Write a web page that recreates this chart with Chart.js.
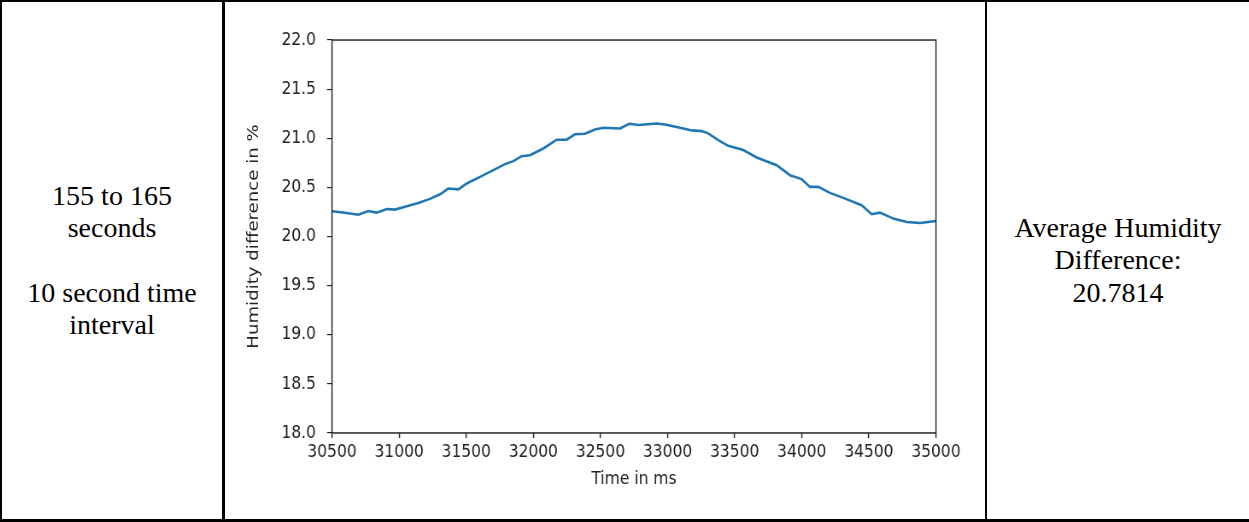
<!DOCTYPE html>
<html>
<head>
<meta charset="utf-8">
<title>Humidity difference, 155 to 165 seconds</title>
<script src="https://cdn.jsdelivr.net/npm/chart.js@4/dist/chart.umd.min.js"></script>
<style>
  html, body { margin: 0; padding: 0; background: #fff; }
  #page { position: relative; width: 1249px; height: 522px; overflow: hidden; }
  .rule { position: absolute; background: #000; }
  .cell {
    position: absolute; top: 2px; height: 517px;
    display: flex; align-items: center; justify-content: center;
    font-family: "Liberation Serif", "Times New Roman", serif;
    font-size: 28px; line-height: 1.15; color: #000; text-align: center;
  }
  /* the plot is drawn on a 1249x446 grid and shown a bit taller (522px) */
  #humidityChart { position: absolute; left: 0; top: 0; }
</style>
</head>
<body>
<div id="page">
  <div class="cell" style="left:2px; width:220px;">
    <div>155 to 165<br>seconds<br>&nbsp;<br>10 second time<br>interval</div>
  </div>
  <div class="cell" style="left:987px; width:262px;">
    <div>Average Humidity<br>Difference:<br>20.7814</div>
  </div>
  <canvas id="humidityChart" width="1249" height="446" style="width:1249px; height:522px;"></canvas>
  <!-- table rules -->
  <div class="rule" style="left:0; top:0; width:1249px; height:2px;"></div>
  <div class="rule" style="left:0; top:519px; width:1249px; height:3px;"></div>
  <div class="rule" style="left:0; top:0; width:2px; height:522px;"></div>
  <div class="rule" style="left:222px; top:0; width:3px; height:522px;"></div>
  <div class="rule" style="left:985px; top:0; width:2px; height:522px;"></div>
</div>

<script>
// Humidity difference over the 10 s window (time in ms)
const timeMs = [
    30500, 30610, 30696, 30770, 30833, 30908, 30969, 31057, 31143, 31230,
    31305, 31366, 31441, 31504, 31603, 31702, 31789, 31851, 31913, 31975,
    32074, 32174, 32248, 32310, 32385, 32459, 32521, 32646, 32715, 32782,
    32919, 32981, 33093, 33180, 33254, 33303, 33378, 33452, 33564, 33664,
    33813, 33912, 33999, 34061, 34123, 34210, 34309, 34446, 34521, 34583,
    34682, 34782, 34881, 35000
];
const humidityDiff = [
    20.257, 20.240, 20.222, 20.260, 20.243, 20.280, 20.274, 20.308, 20.342, 20.383,
    20.430, 20.488, 20.480, 20.540, 20.607, 20.675, 20.737, 20.767, 20.818, 20.828,
    20.896, 20.985, 20.985, 21.040, 21.046, 21.090, 21.107, 21.100, 21.148, 21.135,
    21.150, 21.140, 21.107, 21.080, 21.073, 21.050, 20.980, 20.923, 20.880, 20.804,
    20.726, 20.624, 20.584, 20.505, 20.505, 20.444, 20.393, 20.318, 20.227, 20.243,
    20.182, 20.148, 20.138, 20.158
];

// Axis ranges and tick steps
const xMin = 30500, xMax = 35000, xStep = 500;
const yMin = 18, yMax = 22, yStep = 0.5;

const axisFont = { family: 'DejaVu Sans', size: 15.5, lineHeight: 1.2 };
const inkColor = '#222';

// Box around the plot area (all four spines)
const frameBox = {
    id: 'frameBox',
    afterDraw(chart) {
        const { ctx, chartArea: a } = chart;
        ctx.save();
        ctx.strokeStyle = inkColor;
        ctx.lineWidth = 1.25;
        ctx.strokeRect(a.left, a.top, a.right - a.left, a.bottom - a.top);
        ctx.restore();
    }
};

const points = timeMs.map((t, i) => ({ x: t, y: humidityDiff[i] }));

new Chart(document.getElementById('humidityChart'), {
    type: 'line',
    data: {
        datasets: [{
            data: points,
            borderColor: '#1f77b4',
            borderWidth: 2.2,
            pointRadius: 0,
            tension: 0,
            fill: false
        }]
    },
    options: {
        responsive: false,
        animation: false,
        devicePixelRatio: 1.1705,
        layout: { padding: { left: 244.7, right: 313, top: 34.2, bottom: 27.5 } },
        plugins: {
            legend: { display: false },
            tooltip: { enabled: false }
        },
        scales: {
            x: {
                type: 'linear',
                min: xMin,
                max: xMax,
                afterFit: s => { s.height = 48.6; },
                border: { display: false },
                grid: { drawOnChartArea: false, drawTicks: true, tickLength: 4.3, tickColor: inkColor, tickWidth: 1.2 },
                ticks: {
                    stepSize: xStep,
                    autoSkip: false,
                    maxRotation: 0,
                    padding: 2.7,
                    color: inkColor,
                    font: axisFont,
                    callback: v => String(v)
                },
                title: { display: true, text: 'Time in ms', color: inkColor, font: axisFont, padding: 0 }
            },
            y: {
                min: yMin,
                max: yMax,
                afterFit: s => { s.width = 87.3; },
                border: { display: false },
                grid: { drawOnChartArea: false, drawTicks: true, tickLength: 5, tickColor: inkColor, tickWidth: 1 },
                ticks: {
                    stepSize: yStep,
                    padding: 11,
                    color: inkColor,
                    font: axisFont,
                    callback: v => v.toFixed(1)
                },
                title: { display: true, text: 'Humidity difference in %', color: inkColor, font: axisFont, padding: 0 }
            }
        }
    },
    plugins: [frameBox]
});
</script>
</body>
</html>
